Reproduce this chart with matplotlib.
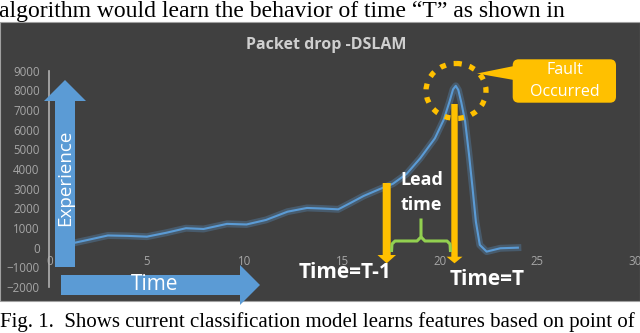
import numpy as np
import matplotlib
matplotlib.use("Agg")
import matplotlib.pyplot as plt
from matplotlib.patches import Polygon, Rectangle, Ellipse, FancyBboxPatch
from matplotlib import patheffects as pe

# packet drop curve
t_vals = [1.3, 2.0, 3.0, 4.0, 5.0, 6.0, 7.0, 7.9, 9.1, 10.1, 11.1, 12.2, 13.2,
          14.0, 14.8, 15.4, 16.1, 16.9, 17.6, 18.3, 19.0, 19.75, 20.2, 20.5,
          20.68, 20.82, 20.95, 21.1, 21.3, 21.5, 21.68, 21.85, 22.05, 22.4,
          23.1, 24.0]
drops = [250, 400, 620, 600, 560, 760, 990, 950, 1210, 1180, 1410, 1830, 2020,
         1990, 1950, 2260, 2630, 2970, 3250, 3750, 4550, 5560, 6500, 7430,
         8050, 8230, 8020, 7400, 6410, 4720, 3020, 1320, 140, -200, -30, 0]
x_ticks = [0, 5, 10, 15, 20, 25, 30]
y_ticks = list(range(-2000, 9001, 1000))

title = "Packet drop -DSLAM"
top_line = "algorithm would learn the behavior of time \u201cT\u201d as shown in"
caption = "Fig. 1.  Shows current classification model learns features based on point of"

BG = "#404040"
BLUE = "#5b9bd5"
GOLD = "#ffc000"
GREEN = "#92d050"
TICK = "#a6a6a6"
SANS = ["Open Sans", "DejaVu Sans"]
SERIF = ["Liberation Serif", "DejaVu Serif"]

W, H = 640, 333
fig = plt.figure(figsize=(W / 100, H / 100), dpi=100)


def pixel_axes(z):
    a = fig.add_axes([0, 0, 1, 1], zorder=z)
    a.set_xlim(0, W)
    a.set_ylim(H, 0)
    a.axis("off")
    a.patch.set_alpha(0)
    return a


# page background, dark panel and the page text
bg = pixel_axes(-1)
bg.add_patch(Rectangle((0, 22), W, 279, fc=BG, ec="#a0a0a0", lw=0.8))
bg.text(-1, 17, top_line, family=SERIF, fontsize=17, color="black", va="baseline")
bg.text(0, 327.5, caption, family=SERIF, fontsize=15, color="black", va="baseline")

# the chart itself
ax = fig.add_axes([49.3 / W, (H - 287) / H, (635 - 49.3) / W, (287 - 70.7) / H], zorder=1)
ax.patch.set_alpha(0)
ax.plot(t_vals, drops, color=BLUE, lw=1.5, solid_joinstyle="round",
        path_effects=[pe.Stroke(linewidth=5, foreground=BLUE, alpha=0.3), pe.Normal()])
ax.set_xlim(0, 30)
ax.set_ylim(-2000, 9000)
ax.set_xticks(x_ticks)
ax.set_yticks(y_ticks)
for s in ["top", "right"]:
    ax.spines[s].set_visible(False)
ax.spines["bottom"].set_position(("data", 0))
ax.spines["bottom"].set_color("none")
ax.spines["left"].set_color("#b0b0b0")
ax.spines["left"].set_linewidth(1.2)
ax.tick_params(axis="y", length=0, pad=7, colors=TICK, labelsize=8.3)
ax.tick_params(axis="x", length=0, pad=5, colors=TICK, labelsize=8.3)
for lab in ax.get_xticklabels() + ax.get_yticklabels():
    lab.set_family(SANS)

# annotations in pixel space on top
ov = pixel_axes(2)
ov.text(326, 45, title, family=SANS, fontsize=11.5, fontweight="bold",
        color="#cfcfcf", ha="center", va="center")

# blue axis arrows
ov.add_patch(Polygon([(55, 267), (75, 267), (75, 101), (86, 101), (65, 80),
                      (44, 101), (55, 101)], fc=BLUE, ec="none"))
ov.add_patch(Polygon([(61, 275), (240, 275), (240, 265), (260, 285), (240, 305),
                      (240, 295), (61, 295)], fc=BLUE, ec="none"))
ov.text(65.5, 178, "Experience", family=SANS, fontsize=13.5, color="white",
        rotation=90, ha="center", va="center")
ov.text(155, 284, "Time", family=SANS, fontsize=15, color="white",
        ha="center", va="center")

# gold arrows at T-1 and T
ov.add_patch(Polygon([(382.7, 183), (390.7, 183), (390.7, 255), (396, 255),
                      (386.7, 263.3), (377.5, 255), (382.7, 255)], fc=GOLD, ec="none"))
ov.add_patch(Polygon([(451.3, 104), (457.7, 104), (457.7, 256.7), (462.5, 256.7),
                      (454.5, 263.3), (446.5, 256.7), (451.3, 256.7)], fc=GOLD, ec="none"))
ov.text(345, 272, "Time=T-1", family=SANS, fontsize=15, fontweight="bold",
        color="white", ha="center", va="center")
ov.text(487.5, 279.5, "Time=T", family=SANS, fontsize=15, fontweight="bold",
        color="white", ha="center", va="center")

# lead time brace
ov.plot([391.5, 392, 395, 417, 421, 421], [252, 244, 241, 241, 237, 218.5],
        color=GREEN, lw=2.2, solid_joinstyle="round", solid_capstyle="butt")
ov.plot([421, 425, 447, 450, 450.5], [237, 241, 241, 244, 252],
        color=GREEN, lw=2.2, solid_joinstyle="round", solid_capstyle="butt")
ov.text(421.5, 180, "Lead", family=SANS, fontsize=13, fontweight="bold",
        color="white", ha="center", va="center")
ov.text(421.5, 205, "time", family=SANS, fontsize=13, fontweight="bold",
        color="white", ha="center", va="center")

# dotted ring round the peak and the callout
ov.add_patch(Ellipse((456, 91), 60, 55, fill=False, ec=GOLD, lw=3.8,
                     linestyle=(0, (1.1, 1.5)), capstyle="butt"))
ov.add_patch(Polygon([(514, 66), (477, 73.5), (514, 80)], fc=GOLD, ec="none"))
ov.add_patch(FancyBboxPatch((512.7, 59.3), 103.3, 43.4,
                            boxstyle="round,pad=0,rounding_size=6", fc=GOLD, ec="none"))
ov.text(565, 70.5, "Fault", family=SANS, fontsize=11.5, color="white",
        ha="center", va="center")
ov.text(565, 91.5, "Occurred", family=SANS, fontsize=11.5, color="white",
        ha="center", va="center")

fig.savefig("out.png", dpi=100)
